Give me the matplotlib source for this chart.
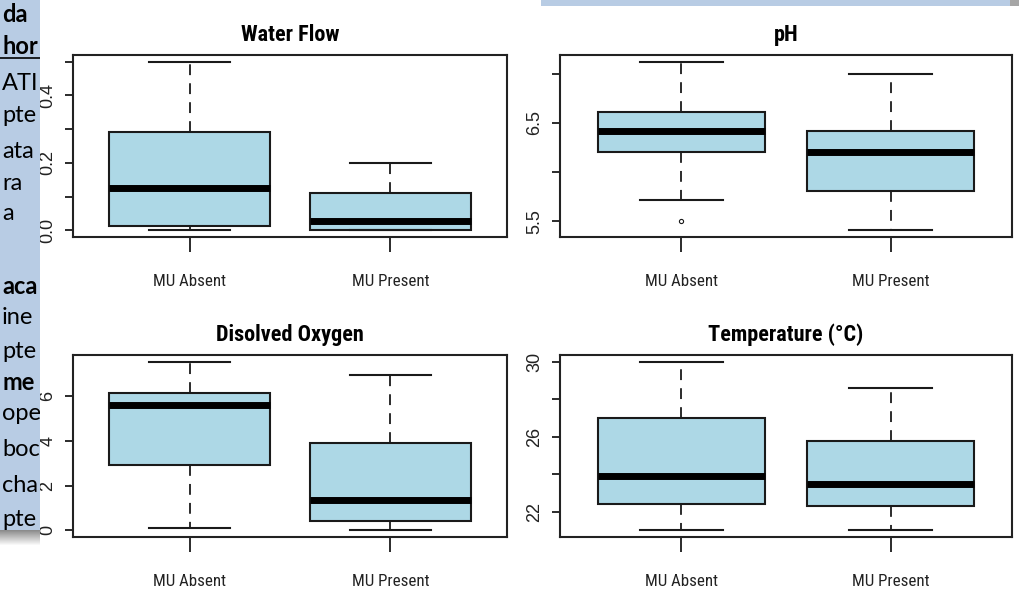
import numpy as np
import matplotlib
matplotlib.use("Agg")
import matplotlib.pyplot as plt

groups = ["MU Absent", "MU Present"]

# Water Flow
wf_low = [0.0, 0.0]
wf_q1 = [0.014, 0.0]
wf_med = [0.124, 0.027]
wf_q3 = [0.291, 0.11]
wf_high = [0.5, 0.2]

# pH
ph_low = [5.72, 5.41]
ph_q1 = [6.20, 5.81]
ph_med = [6.42, 6.20]
ph_q3 = [6.61, 6.42]
ph_high = [7.12, 7.0]
ph_out = [[5.5], []]

# Disolved Oxygen
do_low = [0.09, 0.0]
do_q1 = [2.90, 0.42]
do_med = [5.59, 1.34]
do_q3 = [6.13, 3.92]
do_high = [7.54, 6.94]

# Temperature
t_low = [21.0, 21.0]
t_q1 = [22.38, 22.27]
t_med = [23.89, 23.49]
t_q3 = [26.98, 25.76]
t_high = [30.0, 28.62]

wf_ticks = [0.0, 0.1, 0.2, 0.3, 0.4, 0.5]
wf_labels = ["0.0", "", "0.2", "", "0.4", ""]
ph_ticks = [5.5, 6.0, 6.5, 7.0]
ph_labels = ["5.5", "", "6.5", ""]
do_ticks = [0, 2, 4, 6]
do_labels = ["0", "2", "4", "6"]
t_ticks = [22, 24, 26, 28, 30]
t_labels = ["22", "", "26", "", "30"]

# cropped document text beside the chart
side_words = ["da", "hor", "ATI", "pte", "ata", "ra", "a", "aca", "ine",
              "pte", "me", "ope", "boc", "cha", "pte"]
side_bold = [True, True, False, False, False, False, False, True, False,
             False, True, False, False, False, False]
side_y = [15, 47, 84, 116, 152, 184, 214, 287, 318, 351, 383, 414, 449, 486, 520]

W, H = 1019, 599
NARROW = ["Roboto Condensed", "Liberation Sans Narrow", "Liberation Sans", "DejaVu Sans"]
PLAIN = ["Liberation Sans", "DejaVu Sans"]
FILL = "#add8e6"
INK = "#1a1a1a"


def stats(low, q1, med, q3, high, out=None):
    res = []
    for i in range(len(low)):
        res.append(dict(whislo=low[i], q1=q1[i], med=med[i], q3=q3[i],
                        whishi=high[i], fliers=out[i] if out else []))
    return res


def panel(rect, title, st, ticks, labels):
    ax = fig.add_axes(rect)
    ax.bxp(st, positions=[1, 2], widths=0.8, capwidths=0.4, patch_artist=True,
           boxprops=dict(facecolor=FILL, edgecolor=INK, linewidth=1.5),
           medianprops=dict(color="black", linewidth=5, solid_capstyle="butt"),
           whiskerprops=dict(color=INK, linewidth=1.3, linestyle=(0, (6, 4.5))),
           capprops=dict(color=INK, linewidth=1.5),
           flierprops=dict(marker="o", markersize=3, markerfacecolor="none",
                           markeredgecolor=INK, markeredgewidth=0.8))
    lo = min(min(s["whislo"] for s in st), min([f for s in st for f in s["fliers"]] or [1e9]))
    hi = max(s["whishi"] for s in st)
    pad = (hi - lo) * 0.04
    ax.set_ylim(lo - pad, hi + pad)
    ax.set_xlim(0.42, 2.58)
    ax.set_xticks([1, 2], groups, fontfamily=NARROW, fontsize=12.2, color="#222222")
    ax.set_yticks(ticks, labels, fontfamily=PLAIN, fontsize=13, color="#222222")
    ax.tick_params(axis="x", length=10.5, width=1.3, pad=16, color=INK)
    ax.tick_params(axis="y", length=5.8, width=1.3, pad=6, color=INK, labelrotation=90)
    plt.setp(ax.get_yticklabels(), va="center")
    for s in ax.spines.values():
        s.set_linewidth(1.5)
        s.set_color("#222222")
    ax.set_title(title, fontfamily=NARROW, fontweight="bold", fontsize=16, pad=10)
    return ax


fig = plt.figure(figsize=(W / 100, H / 100), dpi=100)

panel([73 / W, 1 - 237 / H, 434 / W, 182 / H], "Water Flow",
      stats(wf_low, wf_q1, wf_med, wf_q3, wf_high), wf_ticks, wf_labels)
panel([560 / W, 1 - 237 / H, 452 / W, 182 / H], "pH",
      stats(ph_low, ph_q1, ph_med, ph_q3, ph_high, ph_out), ph_ticks, ph_labels)
panel([73 / W, 1 - 537 / H, 434 / W, 182 / H], "Disolved Oxygen",
      stats(do_low, do_q1, do_med, do_q3, do_high), do_ticks, do_labels)
panel([560 / W, 1 - 537 / H, 452 / W, 182 / H], "Temperature (°C)",
      stats(t_low, t_q1, t_med, t_q3, t_high), t_ticks, t_labels)

# left strip of the page behind the chart
strip = fig.add_axes([0, 1 - 530 / H, 40 / W, 530 / H])
strip.set_facecolor("#b8cce4")
strip.set_xlim(0, 40)
strip.set_ylim(530, 0)
strip.set_xticks([])
strip.set_yticks([])
for s in strip.spines.values():
    s.set_visible(False)
for word, bold, y in zip(side_words, side_bold, side_y):
    strip.text(2, y, word, fontsize=17, fontfamily=["Lato", "DejaVu Sans"],
               fontweight="bold" if bold else "normal", va="center", ha="left",
               color="black", clip_on=True)
strip.plot([0, 40], [58, 58], color="black", linewidth=1.2)

shadow = fig.add_axes([0, 1 - 546 / H, 40 / W, 16 / H])
shadow.imshow(np.linspace(0.55, 1.0, 16)[:, None], cmap="gray", vmin=0, vmax=1,
              aspect="auto", extent=[0, 1, 0, 1])
shadow.axis("off")

bar = fig.add_axes([541 / W, 1 - 6 / H, 469 / W, 6 / H])
bar.set_facecolor("#b8cce4")
bar.set_xticks([])
bar.set_yticks([])
for s in bar.spines.values():
    s.set_visible(False)
bar_sh = fig.add_axes([1010 / W, 1 - 6 / H, 9 / W, 6 / H])
bar_sh.set_facecolor("#a6a6a6")
bar_sh.set_xticks([])
bar_sh.set_yticks([])
for s in bar_sh.spines.values():
    s.set_visible(False)

fig.savefig("out.png", dpi=100)
